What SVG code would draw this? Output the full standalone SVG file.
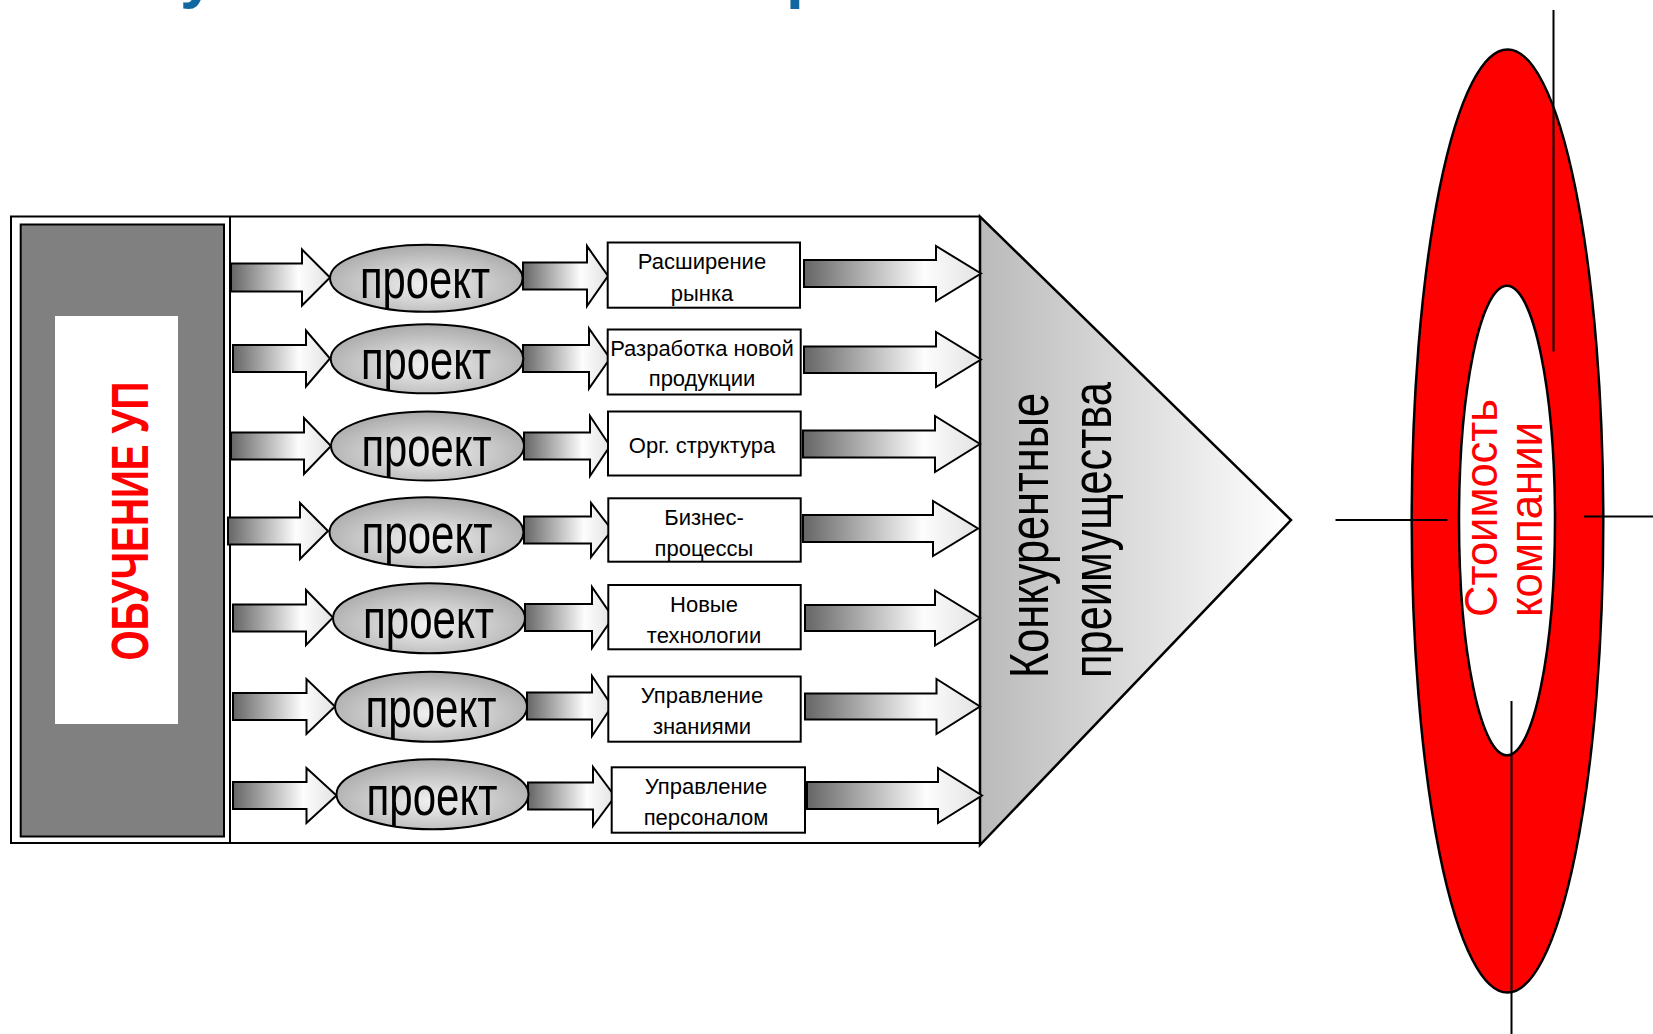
<svg xmlns="http://www.w3.org/2000/svg" width="1653" height="1034" viewBox="0 0 1653 1034">
<defs>
<linearGradient id="gArrow" x1="0" y1="0" x2="1" y2="0">
<stop offset="0" stop-color="#656565"/>
<stop offset="0.68" stop-color="#fdfdfd"/>
<stop offset="1" stop-color="#e2e2e2"/>
</linearGradient>
<radialGradient id="gEll" cx="0.5" cy="0.6" r="0.6">
<stop offset="0" stop-color="#f2f2f2"/>
<stop offset="1" stop-color="#a9a9a9"/>
</radialGradient>
<linearGradient id="gTri" x1="0" y1="0" x2="1" y2="0">
<stop offset="0" stop-color="#bababa"/>
<stop offset="1" stop-color="#ffffff"/>
</linearGradient>
</defs>
<style>
.arr{fill:url(#gArrow);stroke:#000;stroke-width:2;stroke-linejoin:miter}
.ell{fill:url(#gEll);stroke:#000;stroke-width:2}
.box{fill:#fff;stroke:#000;stroke-width:2}
.pt{font-family:"Liberation Sans",Arial,sans-serif;font-size:56px;fill:#000;text-anchor:middle}
.bt{font-family:"Liberation Sans",Arial,sans-serif;font-size:22px;fill:#000;text-anchor:middle}
.ln{stroke:#000;stroke-width:2;fill:none}
.title{font-family:"Liberation Sans",Arial,sans-serif;font-weight:bold;font-size:64px;fill:#11679f}
</style>

<g id="title-fragments">
<text class="title" x="180" y="-4">у</text>
<text class="title" x="786" y="-4">р</text>
</g>

<g id="frame">
<path class="ln" d="M980,216.6 H11 V843 H980" stroke-width="2.5"/>
<line class="ln" x1="230" y1="216.6" x2="230" y2="844"/>
</g>

<g id="node-obuchenie">
<rect x="20.7" y="224.5" width="203.3" height="612" fill="#808080" stroke="#000" stroke-width="2"/>
<rect x="55" y="316" width="123" height="408" fill="#fff"/>
<text transform="translate(148,521) rotate(-90)" x="0" y="0" text-anchor="middle" font-family="'Liberation Sans',Arial,sans-serif" font-weight="bold" font-size="51" fill="#ff0000" textLength="279" lengthAdjust="spacingAndGlyphs">ОБУЧЕНИЕ УП</text>
</g>

<g id="node-advantages">
<polygon points="980,216.6 1291,520 980,845" fill="url(#gTri)" stroke="#000" stroke-width="2.5" stroke-linejoin="miter"/>
<text transform="translate(1048,678) rotate(-90)" font-family="'Liberation Sans',Arial,sans-serif" font-size="56" fill="#000" textLength="285" lengthAdjust="spacingAndGlyphs">Конкурентные</text>
<text transform="translate(1111,678) rotate(-90)" font-family="'Liberation Sans',Arial,sans-serif" font-size="56" fill="#000" textLength="296" lengthAdjust="spacingAndGlyphs">преимущества</text>
</g>

<g id="node-value">
<ellipse cx="1507.5" cy="521" rx="95.8" ry="471.6" fill="#ff0000" stroke="#000" stroke-width="2.5"/>
<ellipse cx="1507" cy="520.5" rx="48" ry="234.8" fill="#fff" stroke="#000" stroke-width="2.5"/>
<text transform="translate(1496.7,617) rotate(-90)" font-family="'Liberation Sans',Arial,sans-serif" font-size="46" fill="#ff0000" textLength="218" lengthAdjust="spacingAndGlyphs">Стоимость</text>
<text transform="translate(1541.7,617) rotate(-90)" font-family="'Liberation Sans',Arial,sans-serif" font-size="46" fill="#ff0000" textLength="195" lengthAdjust="spacingAndGlyphs">компании</text>
<line class="ln" x1="1553.5" y1="10" x2="1553.5" y2="351.5"/>
<line class="ln" x1="1511.5" y1="701" x2="1511.5" y2="1034"/>
<line class="ln" x1="1335.5" y1="520" x2="1447.5" y2="520"/>
<line class="ln" x1="1584" y1="516.5" x2="1653" y2="516.5"/>
</g>

<g id="connectors">
<!-- left arrows: panel -> project -->
<path class="arr" d="M231,263.5 H302 V249.5 L330,277.5 L302,305.5 V291.5 H231 Z"/>
<path class="arr" d="M233,345 H306 V330.5 L330,358.5 L306,386.5 V372 H233 Z"/>
<path class="arr" d="M231,432.5 H304 V418 L331,446 L304,474 V459.5 H231 Z"/>
<path class="arr" d="M228,517.5 H300 V503 L328,531 L300,559 V544.5 H228 Z"/>
<path class="arr" d="M233,604.5 H306 V590 L333,617.5 L306,645 V631.5 H233 Z"/>
<path class="arr" d="M233,693 H306.5 V679 L335,706.5 L306.5,734 V720 H233 Z"/>
<path class="arr" d="M233,782 H306.5 V768 L336.5,795.5 L306.5,823 V809 H233 Z"/>
<!-- middle arrows: project -> box -->
<path class="arr" d="M523,262.5 H587 V246 L608,276 L587,306 V289.5 H523 Z"/>
<path class="arr" d="M523,345 H589 V328.5 L610,358.5 L589,388.5 V372 H523 Z"/>
<path class="arr" d="M524,432.5 H590 V416 L610,446 L590,476 V459.5 H524 Z"/>
<path class="arr" d="M524,516.5 H591 V503 L612,530 L591,557 V543.5 H524 Z"/>
<path class="arr" d="M525,604 H592 V587 L613,617.5 L592,648 V631 H525 Z"/>
<path class="arr" d="M527,692.5 H592 V676 L612,706 L592,736 V719.5 H527 Z"/>
<path class="arr" d="M528,782.5 H593 V767 L615,796.5 L593,826 V809.5 H528 Z"/>
<!-- right arrows: box -> advantages -->
<path class="arr" d="M804,260 H936 V246 L981,273.5 L936,301 V287 H804 Z"/>
<path class="arr" d="M804,346.5 H936 V332 L981,359.5 L936,387 V373 H804 Z"/>
<path class="arr" d="M803,430.5 H935 V416 L980,444 L935,472 V457.5 H803 Z"/>
<path class="arr" d="M803,515 H933 V501 L978,528.5 L933,556 V542 H803 Z"/>
<path class="arr" d="M805,605 H935 V590.5 L980,618 L935,645.5 V631 H805 Z"/>
<path class="arr" d="M805,693.5 H936.5 V679 L980,706.5 L936.5,734 V719.5 H805 Z"/>
<path class="arr" d="M807,782 H938 V768 L982,795.5 L938,823 V809 H807 Z"/>
</g>

<g id="project-1"><ellipse class="ell" cx="426.3" cy="278.3" rx="96.3" ry="33.5"/><text class="pt" x="425" y="297.5" textLength="130" lengthAdjust="spacingAndGlyphs">проект</text></g>
<g id="project-2"><ellipse class="ell" cx="427" cy="358.8" rx="96.3" ry="34.5"/><text class="pt" x="426" y="378.5" textLength="130" lengthAdjust="spacingAndGlyphs">проект</text></g>
<g id="project-3"><ellipse class="ell" cx="427.5" cy="446" rx="96.5" ry="34.5"/><text class="pt" x="426.5" y="466" textLength="130" lengthAdjust="spacingAndGlyphs">проект</text></g>
<g id="project-4"><ellipse class="ell" cx="426.5" cy="532.3" rx="97" ry="35"/><text class="pt" x="427" y="552.5" textLength="131" lengthAdjust="spacingAndGlyphs">проект</text></g>
<g id="project-5"><ellipse class="ell" cx="429" cy="618.3" rx="96" ry="35"/><text class="pt" x="428.5" y="638" textLength="131" lengthAdjust="spacingAndGlyphs">проект</text></g>
<g id="project-6"><ellipse class="ell" cx="431" cy="706.7" rx="96" ry="35"/><text class="pt" x="431" y="726.5" textLength="131" lengthAdjust="spacingAndGlyphs">проект</text></g>
<g id="project-7"><ellipse class="ell" cx="432.5" cy="794.2" rx="96" ry="35"/><text class="pt" x="432" y="814.5" textLength="131" lengthAdjust="spacingAndGlyphs">проект</text></g>

<g id="box-1"><rect class="box" x="607.7" y="242.5" width="192.3" height="65.2"/><text class="bt" x="702" y="269.3">Расширение</text><text class="bt" x="702" y="300.5">рынка</text></g>
<g id="box-2"><rect class="box" x="607.7" y="329.5" width="193" height="65"/><text class="bt" x="702" y="355.7">Разработка новой</text><text class="bt" x="702" y="386">продукции</text></g>
<g id="box-3"><rect class="box" x="608" y="411.5" width="192.7" height="64"/><text class="bt" x="702" y="452.5">Орг. структура</text></g>
<g id="box-4"><rect class="box" x="608.3" y="498.3" width="192.4" height="63.4"/><text class="bt" x="704" y="524.5">Бизнес-</text><text class="bt" x="704" y="555.5">процессы</text></g>
<g id="box-5"><rect class="box" x="608.3" y="585" width="192.4" height="64.3"/><text class="bt" x="704" y="612">Новые</text><text class="bt" x="704" y="643">технологии</text></g>
<g id="box-6"><rect class="box" x="608.3" y="676.5" width="192.4" height="65.2"/><text class="bt" x="702" y="703">Управление</text><text class="bt" x="702" y="734">знаниями</text></g>
<g id="box-7"><rect class="box" x="611.7" y="767.3" width="193.3" height="65.4"/><text class="bt" x="706" y="793.5">Управление</text><text class="bt" x="706" y="825">персоналом</text></g>
</svg>
